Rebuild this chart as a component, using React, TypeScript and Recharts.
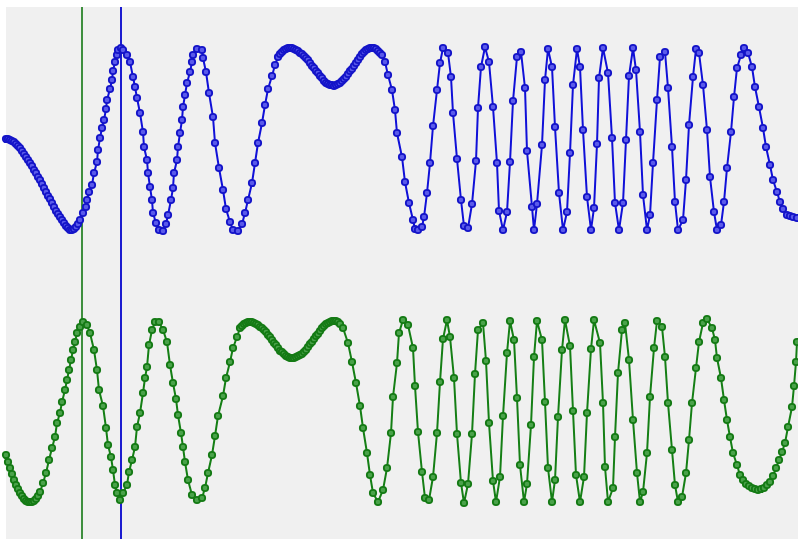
import { LineChart, Line, XAxis, YAxis, ReferenceLine } from 'recharts';

// sample time, level (upper trace)
const bluePoints: [number, number][] = [
  [6, 0], [8, 0], [10, -1], [12, -2], [14, -3], [16, -5], [18, -7], [20, -9], [22, -12], [24, -15],
  [26, -18], [28, -21], [30, -24], [32, -27], [34, -31], [36, -34], [38, -38], [40, -41], [42, -45],
  [44, -49], [46, -53], [48, -57], [50, -60], [52, -64], [54, -68], [56, -72], [58, -75], [60, -78],
  [62, -81], [64, -84], [66, -87], [68, -89], [70, -91], [72, -91], [74, -90], [76, -88],
  [78, -85], [80, -81], [83, -74], [86, -68], [87, -61], [89, -53], [92, -46], [94, -34], [97, -23],
  [98, -11], [100, 1], [102, 11], [104, 19], [106, 30], [107, 39], [110, 50], [112, 59], [113, 68],
  [115, 77], [117, 84], [118, 89], [121, 91], [123, 89], [127, 84], [130, 77], [133, 62], [135, 52],
  [137, 41], [140, 26], [143, 7], [144, -8], [147, -21], [148, -34], [150, -48], [152, -61], [153, -74],
  [156, -84], [159, -91], [163, -92], [166, -85], [168, -76], [171, -61], [173, -49], [174, -34],
  [177, -21], [178, -8], [180, 6], [182, 19], [183, 32], [185, 44], [187, 56], [190, 67], [192, 77],
  [193, 84], [197, 90], [202, 89], [203, 81], [206, 67], [209, 46], [213, 22], [215, -4], [219, -29],
  [223, -51], [226, -70], [230, -83], [233, -91], [238, -92], [242, -85], [245, -74], [248, -61],
  [252, -44], [255, -24], [258, -4], [262, 16], [265, 34], [268, 50], [272, 63], [275, 74], [278, 82],
  [280, 85], [282, 87], [284, 89], [286, 90], [288, 91], [290, 91], [292, 91], [294, 90], [296, 89],
  [298, 88], [300, 86], [302, 85], [304, 83], [306, 81], [308, 79], [310, 76], [312, 73], [314, 71],
  [316, 68], [318, 66], [320, 63], [322, 61], [324, 58], [326, 56], [328, 55], [330, 54], [332, 54],
  [334, 53], [336, 54], [338, 55], [340, 56], [342, 58], [344, 60], [346, 62], [348, 65], [350, 68],
  [352, 70], [354, 73], [356, 76], [358, 79], [360, 82], [362, 85], [364, 87], [366, 89], [368, 90],
  [370, 91], [372, 91], [374, 91], [376, 90], [378, 88], [380, 86], [382, 84], [385, 77],
  [388, 64], [392, 49], [395, 29], [397, 6], [402, -18], [405, -43], [409, -64], [413, -81], [415, -90],
  [418, -91], [422, -88], [424, -78], [427, -54], [430, -24], [433, 13], [437, 49], [440, 76], [443, 91],
  [448, 86], [451, 62], [453, 26], [457, -20], [461, -61], [464, -87], [468, -89], [472, -65], [476, -22],
  [478, 31], [481, 72], [485, 92], [489, 77], [493, 32], [497, -24], [499, -72], [503, -91], [507, -73],
  [510, -23], [513, 38], [517, 82], [521, 87], [525, 51], [527, -12], [532, -68], [534, -91], [537, -65],
  [542, -6], [545, 59], [548, 90], [552, 72], [555, 12], [559, -54], [563, -91], [567, -73], [570, -14],
  [573, 54], [577, 90], [580, 72], [583, 9], [587, -58], [591, -91], [594, -69], [597, -5], [599, 61],
  [603, 91], [608, 66], [612, 1], [615, -64], [619, -91], [623, -64], [626, -1], [629, 63], [633, 91],
  [636, 69], [640, 7], [643, -56], [647, -91], [650, -76], [653, -24], [657, 39], [660, 82], [665, 87],
  [668, 51], [672, -8], [675, -63], [678, -91], [683, -81], [686, -41], [689, 14], [693, 62], [696, 90],
  [699, 86], [703, 54], [707, 9], [710, -38], [714, -73], [717, -91], [721, -86], [724, -63], [727, -29],
  [731, 7], [734, 42], [737, 71], [741, 84], [744, 91], [748, 86], [752, 72], [755, 52], [759, 32],
  [763, 11], [766, -8], [770, -26], [773, -41], [777, -53], [780, -63], [783, -70], [787, -76],
  [790, -77], [793, -78], [797, -79],
];

// sample time, level (lower trace)
const greenPoints: [number, number][] = [
  [6, -44], [8, -51], [10, -57], [12, -63], [14, -69], [16, -74], [18, -78], [20, -82], [22, -85],
  [24, -88], [26, -90], [28, -91], [30, -91], [32, -91], [34, -90], [36, -88], [38, -85], [40, -81],
  [43, -72], [46, -62], [49, -49], [52, -37], [55, -26], [57, -12], [60, -2], [62, 9], [65, 21],
  [67, 31], [69, 41], [71, 51], [73, 61], [75, 69], [77, 78], [80, 84], [83, 89], [87, 86], [90, 78],
  [94, 61], [97, 41], [99, 21], [103, 5], [106, -17], [108, -34], [111, -46], [113, -59], [115, -74],
  [117, -82], [120, -89], [123, -82], [127, -74], [129, -61], [132, -49], [135, -36], [137, -16],
  [140, -2], [143, 18], [145, 33], [147, 44], [149, 66], [152, 81], [155, 89], [159, 89], [163, 81],
  [167, 69], [170, 46], [173, 28], [176, 12], [178, -4], [181, -22], [183, -36], [185, -51], [188, -69],
  [192, -84], [197, -89], [202, -87], [205, -77], [208, -62], [212, -44], [215, -25], [218, -5],
  [223, 15], [226, 33], [230, 49], [233, 63], [237, 74], [240, 83],
  [242, 85], [244, 87], [246, 88], [248, 89], [250, 89], [252, 89], [254, 88], [256, 87], [258, 86],
  [260, 84], [262, 83], [264, 81], [266, 79], [268, 76], [270, 74], [272, 71], [274, 68], [276, 66],
  [278, 63], [280, 60], [282, 59], [284, 57], [286, 55], [288, 54], [290, 53], [292, 53], [294, 53],
  [296, 54], [298, 55], [300, 56], [302, 57], [304, 59], [306, 61], [308, 64], [310, 67], [312, 69],
  [314, 72], [316, 75], [318, 77], [320, 80], [322, 83], [324, 85], [326, 87], [328, 88], [330, 89],
  [332, 90], [334, 90], [336, 90], [338, 89], [340, 87], [343, 83], [348, 68], [352, 49],
  [356, 28], [360, 5], [363, -17], [367, -42], [370, -64], [373, -82], [378, -91], [383, -79],
  [387, -57], [391, -22], [393, 14], [397, 48], [399, 78], [403, 91], [408, 86], [413, 63], [415, 25],
  [418, -21], [422, -61], [425, -87], [429, -89], [433, -66], [437, -22], [440, 29], [443, 72],
  [447, 91], [450, 74], [454, 33], [457, -23], [461, -72], [464, -92], [468, -73], [472, -23],
  [475, 37], [478, 81], [483, 88], [486, 50], [489, -12], [493, -70], [496, -91], [500, -66],
  [503, -5], [507, 58], [510, 90], [514, 71], [517, 13], [520, -54], [524, -91], [527, -73],
  [531, -14], [534, 54], [537, 90], [542, 71], [545, 9], [548, -57], [552, -91], [555, -69],
  [558, -6], [562, 61], [565, 91], [570, 65], [573, 0], [576, -64], [580, -91], [584, -66],
  [587, -2], [591, 62], [594, 91], [600, 68], [603, 8], [605, -56], [608, -91], [613, -77],
  [615, -26], [618, 38], [622, 81], [625, 88], [629, 51], [633, -9], [637, -62], [640, -91],
  [643, -81], [647, -42], [650, 14], [654, 63], [657, 90], [662, 84], [665, 54], [668, 8],
  [672, -39], [675, -74], [678, -91], [682, -86], [686, -62], [689, -29], [692, 8], [696, 43],
  [699, 69], [703, 88], [707, 92], [712, 83], [715, 71], [717, 53], [721, 33], [724, 11], [727, -9],
  [730, -26], [733, -42], [737, -54], [740, -64], [743, -69], [746, -73], [749, -75], [752, -77],
  [755, -78], [758, -79], [761, -78], [764, -77], [767, -74], [770, -71], [773, -65], [776, -57],
  [779, -49], [782, -41], [785, -32], [788, -16], [792, 4], [794, 25], [796, 49], [797, 69],
];

// cursor positions
const greenCursor = 82;
const blueCursor = 121;

const toRows = (pts: [number, number][]) => pts.map(([t, v]) => ({ t, v }));

export default function App() {
  const blueData = toRows(bluePoints);
  const greenData = toRows(greenPoints);

  return (
    <div style={{ position: 'fixed', left: 0, top: 0, width: 798, height: 539, background: '#ffffff' }}>
      <div style={{ position: 'absolute', left: 6, top: 7, width: 792, height: 532, background: '#f0f0f0' }} />
      <div style={{ position: 'absolute', left: 0, top: 7 }}>
        <LineChart width={798} height={532} margin={{ top: 0, right: 0, bottom: 0, left: 0 }}>
          <XAxis type="number" dataKey="t" domain={[0, 798]} hide allowDataOverflow />
          <YAxis yAxisId="top" type="number" domain={[-400, 132]} hide allowDataOverflow />
          <YAxis yAxisId="bottom" type="number" domain={[-128, 404]} hide allowDataOverflow />
          <ReferenceLine yAxisId="top" x={greenCursor} stroke="#3f8f3f" strokeWidth={2} />
          <ReferenceLine yAxisId="top" x={blueCursor} stroke="#1c1cd0" strokeWidth={2} />
          <Line
            yAxisId="top"
            data={blueData}
            dataKey="v"
            type="linear"
            stroke="#1010d8"
            strokeWidth={2}
            dot={{ r: 3.2, stroke: '#1414c8', strokeWidth: 1.8, fill: '#5a5aea' }}
            isAnimationActive={false}
          />
          <Line
            yAxisId="bottom"
            data={greenData}
            dataKey="v"
            type="linear"
            stroke="#157f15"
            strokeWidth={2}
            dot={{ r: 3.2, stroke: '#147a14', strokeWidth: 1.8, fill: '#4aa24a' }}
            isAnimationActive={false}
          />
        </LineChart>
      </div>
    </div>
  );
}
